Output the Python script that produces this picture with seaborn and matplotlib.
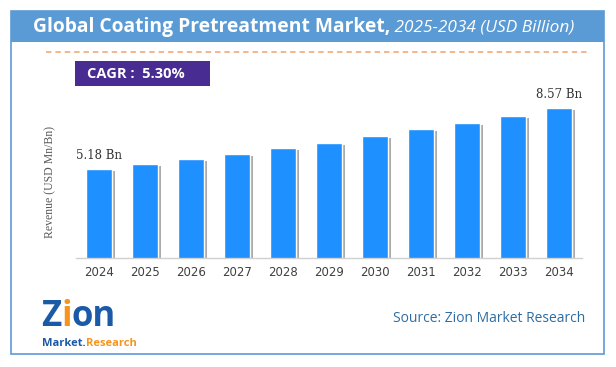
import matplotlib
matplotlib.use("Agg")
import matplotlib.pyplot as plt
import matplotlib.patheffects as pe
from matplotlib.patches import Rectangle
from matplotlib.lines import Line2D
import seaborn as sns
import pandas as pd

years = ["2024", "2025", "2026", "2027", "2028", "2029", "2030", "2031", "2032", "2033", "2034"]
revenue = [5.18, 5.47, 5.75, 6.03, 6.34, 6.64, 7.02, 7.38, 7.72, 8.13, 8.57]
value_labels = {0: "5.18 Bn", 10: "8.57 Bn"}
title_main = "Global Coating Pretreatment Market,"
title_sub = " 2025-2034 (USD Billion)"
cagr_text = "CAGR :  5.30%"
y_label = "Revenue (USD Mn/Bn)"
source_text = "Source: Zion Market Research"

df = pd.DataFrame({"year": years, "revenue": revenue})

sns.set_theme(style="white")
plt.rcParams["font.family"] = ["DejaVu Sans"]

W, H = 616, 367
fig = plt.figure(figsize=(W / 100, H / 100), dpi=100)

def fx(px):
    return px / W

def fy(py):
    return 1 - py / H

fig.canvas.draw()
r = fig.canvas.get_renderer()

# Outer frame and title bar
fig.patches.append(Rectangle((fx(11), fy(354)), fx(604) - fx(11), fy(11) - fy(354),
                             transform=fig.transFigure, fill=False, edgecolor="#5B9BD5", lw=1.2))
fig.patches.append(Rectangle((fx(11), fy(42)), fx(604) - fx(11), fy(11) - fy(42),
                             transform=fig.transFigure, facecolor="#5B9BD5", edgecolor="none"))

# Title text
t1 = fig.text(fx(33), fy(27), title_main, color="white", fontsize=13.9, fontweight="bold",
              family="Open Sans", va="center", ha="left")
bb = t1.get_window_extent(renderer=r)
fig.text(bb.x1 / W, fy(28), title_sub, color="white", fontsize=12.4, style="italic",
         family="Open Sans", va="center", ha="left")

# Orange dashed line
fig.lines.append(Line2D([fx(46), fx(590)], [fy(51.5), fy(51.5)], transform=fig.transFigure,
                        color="#F2A36E", lw=1.3, ls=(0, (3, 2.2)), alpha=0.85))

# CAGR box
fig.patches.append(Rectangle((fx(75), fy(86)), fx(210) - fx(75), fy(61) - fy(86),
                             transform=fig.transFigure, facecolor="#482C91", edgecolor="none"))
fig.text(fx(87), fy(73.5), cagr_text, color="white", fontsize=10.5, fontweight="bold",
         family="Open Sans", va="center", ha="left")

# Axes
left, right = 76, 582
bottom, top = 258, 95
ax = fig.add_axes([fx(left), fy(bottom), fx(right) - fx(left), fy(top) - fy(bottom)])
sns.barplot(data=df, x="year", y="revenue", color="#1E90FF", saturation=1, width=0.565, ax=ax)
for p in ax.patches:
    p.set_path_effects([pe.SimplePatchShadow(offset=(2.2, -1.5), shadow_rgbFace="#666666", alpha=0.55),
                        pe.Normal()])
y0 = 0.26
ax.set_ylim(y0, y0 + (bottom - top) / 18.08)
ax.set_xlim(-0.5, len(years) - 0.5)
ax.set_yticks([])
ax.set_xlabel("")
ax.set_ylabel("")
for s in ["top", "right", "left"]:
    ax.spines[s].set_visible(False)
ax.spines["bottom"].set_color("#D0D0D0")
ax.spines["bottom"].set_linewidth(1.0)
ax.tick_params(axis="x", length=0, pad=6, labelsize=8.5, labelcolor="#404040")
for lab in ax.get_xticklabels():
    lab.set_family("DejaVu Sans")
for i, txt in value_labels.items():
    ax.annotate(txt, (i, revenue[i]), xytext=(0, 5), textcoords="offset points",
                ha="center", va="bottom", fontsize=8.5, family="DejaVu Serif", color="#333333")

fig.text(fx(50), fy(182), y_label, rotation=90, fontsize=8.5, family="Liberation Serif",
         color="#595959", ha="center", va="center")

# Source
fig.text(fx(585), fy(318), source_text, fontsize=10, family="Open Sans", color="#2E6DA4",
         ha="right", va="center")

# Logo (text approximation)
z = fig.text(fx(41), fy(317), "Z", fontsize=25, fontweight="bold", family="Open Sans",
             color="#1B5AA6", ha="left", va="center")
zb = z.get_window_extent(renderer=r)
i_ = fig.text(zb.x1 / W, fy(317), "i", fontsize=25, fontweight="bold", family="Open Sans",
              color="#F7941D", ha="left", va="center")
ib = i_.get_window_extent(renderer=r)
fig.text(ib.x1 / W, fy(317), "on", fontsize=25, fontweight="bold", family="Open Sans",
         color="#1B5AA6", ha="left", va="center")
m = fig.text(fx(42), fy(343), "Market.", fontsize=8, fontweight="bold", family="Open Sans",
             color="#1B5AA6", ha="left", va="center")
mb = m.get_window_extent(renderer=r)
fig.text(mb.x1 / W, fy(343), "Research", fontsize=8, fontweight="bold", family="Open Sans",
         color="#F7941D", ha="left", va="center")

fig.savefig("out.png", dpi=100)
